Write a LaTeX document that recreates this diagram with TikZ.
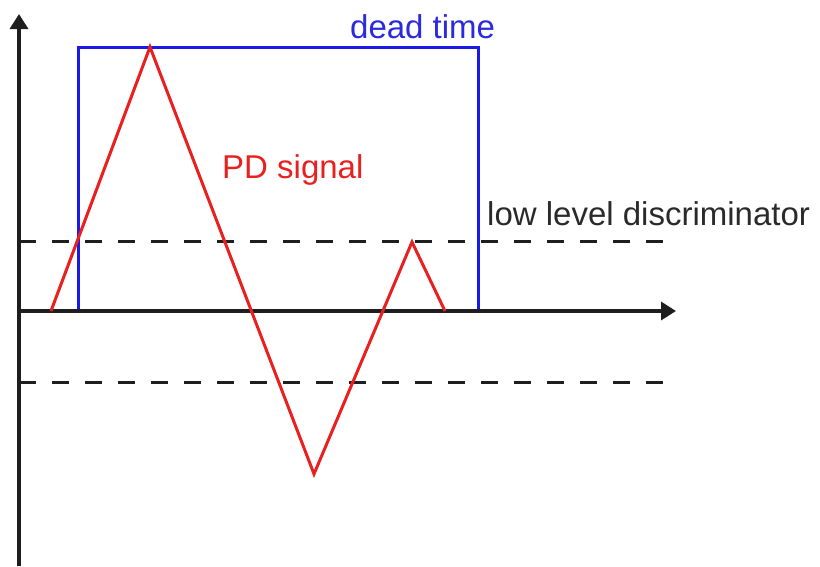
\documentclass[tikz,border=0pt]{standalone}
\usepackage{fontspec}
\setmainfont{Liberation Sans}
\usetikzlibrary{arrows.meta}
\definecolor{axisgray}{HTML}{1E1E1E}
\definecolor{sigred}{HTML}{E82020}
\definecolor{dtblue}{HTML}{1A1AE6}
\definecolor{txtblue}{HTML}{2A2AE0}
\definecolor{txtgray}{HTML}{2A2A2A}
\tikzset{
  axis/.style={draw=axisgray, line width=3.4pt, -{Triangle[length=15pt,width=18pt]}},
  level/.style={draw=axisgray, line width=3pt, dash pattern=on 17pt off 16pt},
  signal/.style={draw=sigred, line width=3pt, line join=miter},
  deadbox/.style={draw=dtblue, line width=3pt},
  lbl/.style={font=\fontsize{33}{40}\selectfont, anchor=base west, inner sep=0pt}
}
\begin{document}
\begin{tikzpicture}[x=1pt,y=-1pt]
\useasboundingbox (0,0) rectangle (820,566);
% coordinates
\coordinate (yb) at (19,566);
\coordinate (yt) at (19,14);
\coordinate (xl) at (19,311);
\coordinate (xr) at (676,311);
\coordinate (u1) at (19,241);
\coordinate (u2) at (668,241);
\coordinate (l1) at (19,382);
\coordinate (l2) at (668,382);
\coordinate (b1) at (78,311);
\coordinate (b2) at (78,47);
\coordinate (b3) at (478,47);
\coordinate (b4) at (478,311);
\coordinate (s0) at (51,311);
\coordinate (s1) at (150,47);
\coordinate (s2) at (314,474);
\coordinate (s3) at (412,242);
\coordinate (s4) at (445,311);
% dead time box
\draw[deadbox] (b1) -- (b2) -- (b3) -- (b4);
% levels
\draw[level] (u1) -- (u2);
\draw[level] (l1) -- (l2);
% axes
\draw[axis] (yb) -- (yt);
\draw[axis] (xl) -- (xr);
% signal
\draw[signal] (s0) -- (s1) -- (s2) -- (s3) -- (s4);
% labels
\node[lbl, text=txtblue] (dt) at (350,38) {dead time};
\node[lbl, text=sigred] (pd) at (222,178) {PD signal};
\node[lbl, text=txtgray] (lld) at (487,225) {low level discriminator};
\end{tikzpicture}
\end{document}
